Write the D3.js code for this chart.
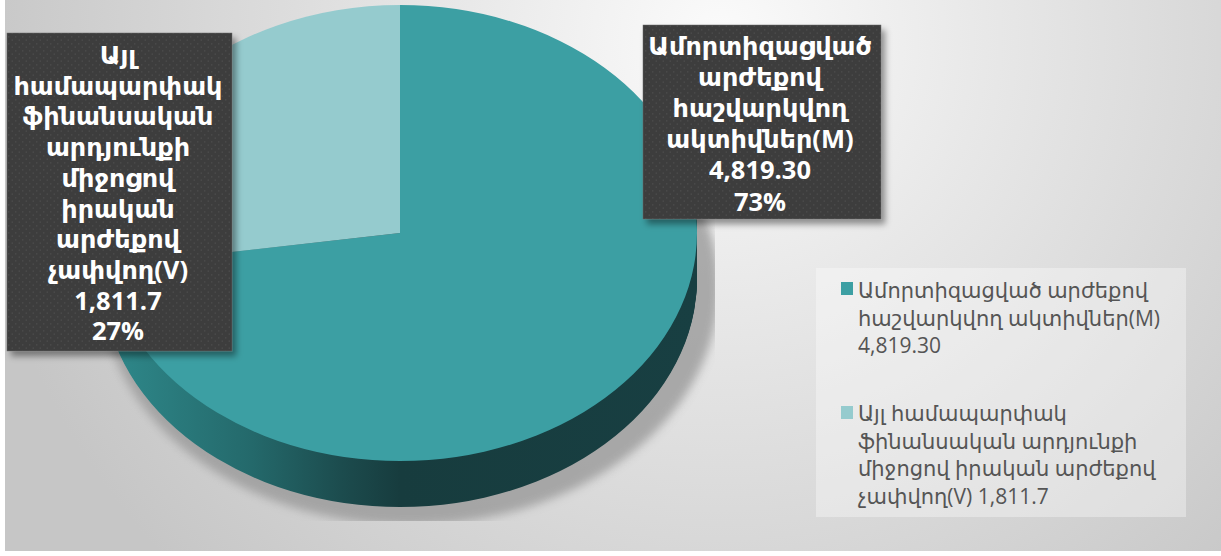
<!DOCTYPE html>
<html lang="hy">
<head>
    <meta charset="UTF-8">
    <title>Pie chart</title>
    <script src="https://cdn.jsdelivr.net/npm/d3@7"></script>
    <style>
        html, body { margin: 0; padding: 0; background: #fff; overflow: hidden; }
        svg { display: block; }
        text { font-family: "Open Sans", "DejaVu Sans", sans-serif; }
    </style>
</head>
<body>
<script>
    // data
    var categories = ["M", "V"];
    var values = [4819.30, 1811.7];
    var colors = ["#3c9fa3", "#95cbce"];

    var labelLinesM = ["Ամորտիզացված", "արժեքով", "հաշվարկվող", "ակտիվներ(M)", "4,819.30", "73%"];
    var labelLinesV = ["Այլ", "համապարփակ", "ֆինանսական", "արդյունքի", "միջոցով", "իրական", "արժեքով", "չափվող(V)", "1,811.7", "27%"];
    var legendLinesM = ["Ամորտիզացված արժեքով", "հաշվարկվող ակտիվներ(M)", "4,819.30"];
    var legendLinesV = ["Այլ համապարփակ", "ֆինանսական արդյունքի", "միջոցով իրական արժեքով", "չափվող(V) 1,811.7"];

    var width = 1221, height = 556;
    var cx = 400, cy = 233, rx = 297, ry = 228, depth = 46;

    var svg = d3.select("body").append("svg")
                .attr("width", width)
                .attr("height", height);
    var defs = svg.append("defs");

    // background gradient
    var bg = defs.append("radialGradient").attr("id", "bg")
                .attr("gradientUnits", "userSpaceOnUse")
                .attr("cx", 720).attr("cy", 40).attr("r", 760);
    bg.append("stop").attr("offset", "0").attr("stop-color", "#fbfbfb");
    bg.append("stop").attr("offset", "0.35").attr("stop-color", "#e8e8e8");
    bg.append("stop").attr("offset", "1").attr("stop-color", "#c6c6c6");
    svg.append("rect").attr("x", 5).attr("y", 0)
        .attr("width", width - 5).attr("height", 551)
        .attr("fill", "url(#bg)");

    // side colour of the pie
    var side = defs.append("linearGradient").attr("id", "side")
                .attr("gradientUnits", "userSpaceOnUse")
                .attr("x1", -rx).attr("x2", rx).attr("y1", 0).attr("y2", 0);
    [[0, "#2f8a8c"], [0.25, "#24696b"], [0.4, "#1c4c4e"], [0.5, "#173c3e"], [1, "#183f42"]].forEach(function (s){
        side.append("stop").attr("offset", s[0]).attr("stop-color", s[1]);
    });

    // dotted pattern of the data labels
    var pat = defs.append("pattern").attr("id", "dots")
                .attr("patternUnits", "userSpaceOnUse")
                .attr("width", 7).attr("height", 7);
    pat.append("rect").attr("width", 7).attr("height", 7).attr("fill", "#3c3c3c");
    pat.append("circle").attr("cx", 1.75).attr("cy", 1.75).attr("r", 0.9).attr("fill", "#484848");
    pat.append("circle").attr("cx", 5.25).attr("cy", 5.25).attr("r", 0.9).attr("fill", "#484848");

    var blur = defs.append("filter").attr("id", "blur")
                .attr("x", "-10%").attr("y", "-10%").attr("width", "120%").attr("height", "120%");
    blur.append("feGaussianBlur").attr("stdDeviation", 5);

    var boxShadow = defs.append("filter").attr("id", "boxShadow")
                .attr("x", "-10%").attr("y", "-10%").attr("width", "120%").attr("height", "120%");
    boxShadow.append("feDropShadow").attr("dx", 4).attr("dy", 5).attr("stdDeviation", 3)
                .attr("flood-color", "#000").attr("flood-opacity", 0.4);

    defs.append("clipPath").attr("id", "shadowClip").append("rect")
        .attr("x", 0).attr("y", 0).attr("width", 715).attr("height", 521);

    var pie = d3.pie().sort(null).value(function (d){ return d; });
    var arc = d3.arc().innerRadius(0).outerRadius(rx);
    var color = d3.scaleOrdinal().domain(categories).range(colors);
    var slices = pie(values);
    var squash = "scale(1," + (ry / rx) + ")";

    // shadow under the pie, cut off by a rectangle like in the original
    svg.append("g").attr("clip-path", "url(#shadowClip)")
        .append("ellipse")
        .attr("cx", cx + 10).attr("cy", cy + depth + 8)
        .attr("rx", rx + 12).attr("ry", ry + 10)
        .attr("fill", "#9a9a9a").attr("opacity", 0.8)
        .attr("filter", "url(#blur)");

    // side of the pie: the same shape repeated downwards
    var sideG = svg.append("g");
    d3.range(depth, 0, -1).forEach(function (dy){
        sideG.append("g")
            .attr("transform", "translate(" + cx + "," + (cy + dy) + ") " + squash)
            .selectAll("path")
            .data(slices)
            .enter()
            .append("path")
            .attr("d", arc)
            .attr("fill", "url(#side)");
    });

    // top of the pie
    svg.append("g")
        .attr("transform", "translate(" + cx + "," + cy + ") " + squash)
        .selectAll("path")
        .data(slices)
        .enter()
        .append("path")
        .attr("d", arc)
        .attr("fill", function (d, i){ return color(categories[i]); });

    // data labels
    function drawLabel(x, y, w, h, lines, firstY, step, tx){
        svg.append("rect")
            .attr("x", x).attr("y", y).attr("width", w).attr("height", h)
            .attr("fill", "url(#dots)")
            .attr("stroke", "#6a6a6a").attr("stroke-width", 0.5)
            .attr("filter", "url(#boxShadow)");
        svg.selectAll(null)
            .data(lines)
            .enter()
            .append("text")
            .attr("x", tx)
            .attr("y", function (d, i){ return firstY + i * step; })
            .attr("text-anchor", "middle")
            .attr("font-size", 25.5)
            .attr("font-weight", "bold")
            .attr("fill", "#fff")
            .text(function (d){ return d; });
    }
    drawLabel(7, 33, 225, 318, labelLinesV, 64, 30.7, 118);
    drawLabel(643, 25, 238, 194, labelLinesM, 55, 31.1, 760);

    // legend
    svg.append("rect")
        .attr("x", 816).attr("y", 268).attr("width", 370).attr("height", 249)
        .attr("fill", "#fff").attr("opacity", 0.35);

    function drawLegend(lines, key, y, firstY){
        svg.append("rect")
            .attr("x", 841).attr("y", y).attr("width", 12).attr("height", 13)
            .attr("fill", color(key));
        svg.selectAll(null)
            .data(lines)
            .enter()
            .append("text")
            .attr("x", 858)
            .attr("y", function (d, i){ return firstY + i * 27.5; })
            .attr("font-size", 21)
            .attr("fill", "#555")
            .text(function (d){ return d; });
    }
    drawLegend(legendLinesM, categories[0], 282, 298);
    drawLegend(legendLinesV, categories[1], 406, 421);
</script>
</body>
</html>
